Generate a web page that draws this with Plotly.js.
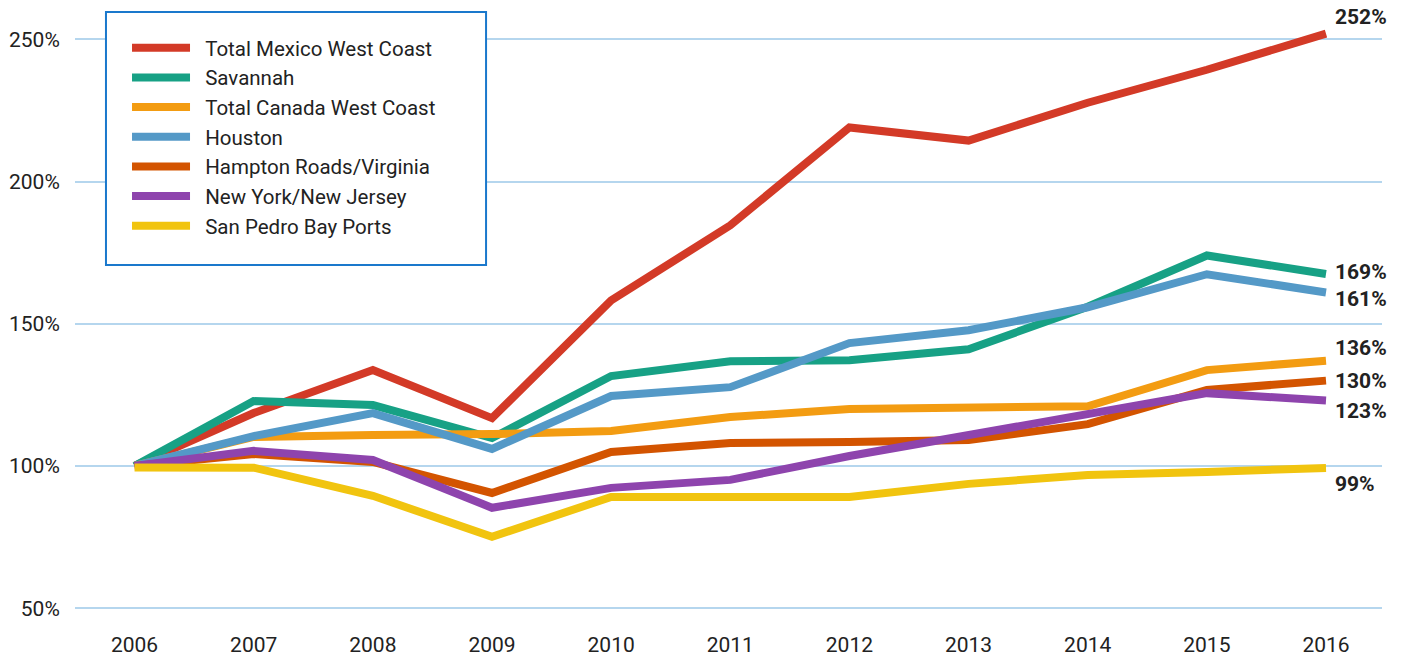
<!DOCTYPE html>
<html>
<head>
<meta charset="utf-8">
<script src="https://cdn.plot.ly/plotly-3.0.1.min.js"></script>
<style>html,body{margin:0;padding:0;background:#fff;}#chart{width:1405px;height:658px;}</style>
</head>
<body>
<div id="chart"></div>
<script>
const years = [2006, 2007, 2008, 2009, 2010, 2011, 2012, 2013, 2014, 2015, 2016];
const seriesNames = ["Total Mexico West Coast", "Savannah", "Total Canada West Coast", "Houston", "Hampton Roads/Virginia", "New York/New Jersey", "San Pedro Bay Ports"];
const mexicoWestCoast = [100, 118.6, 133.7, 116.8, 158.2, 184.6, 219.0, 214.4, 227.7, 239.3, 252];
const savannah        = [100, 122.8, 121.4, 109.8, 131.6, 136.8, 137.2, 141.0, 156.0, 174.0, 167.5];
const canadaWestCoast = [100, 110.2, 110.9, 111.2, 112.3, 117.2, 120.0, 120.4, 121.0, 133.7, 137];
const houston         = [100, 110.5, 118.6, 106.0, 124.6, 127.7, 143.2, 147.7, 155.8, 167.4, 161];
const hamptonRoads    = [100, 104.2, 101.4, 90.5, 104.9, 108.1, 108.4, 109.1, 114.7, 126.7, 130];
const newYorkNewJersey= [100, 105.3, 102.1, 85.3, 92.3, 95.1, 103.5, 110.9, 118.6, 125.6, 123];
const sanPedroBay     = [99.5, 99.4, 89.5, 75.1, 89.1, 89.1, 89.1, 93.7, 96.8, 97.9, 99.3];
const endLabels = ["252%", "169%", "136%", "161%", "130%", "123%", "99%"];
const yTickVals = [50, 100, 150, 200, 250];
const yTickText = ["50%", "100%", "150%", "200%", "250%"];

const seriesValues = [mexicoWestCoast, savannah, canadaWestCoast, houston, hamptonRoads, newYorkNewJersey, sanPedroBay];
const colors = ["#d33a27", "#17a185", "#f39c12", "#5499c7", "#d35400", "#8e44ad", "#f1c40f"];
const shiftBySeries = [17, 2, 13, -7, 0, -10, -16];

const traces = seriesNames.map((name, i) => ({
  type: "scatter",
  mode: "lines",
  name: "\u00a0\u00a0" + name,
  x: years,
  y: seriesValues[i],
  line: {color: colors[i], width: 8},
  hoverinfo: "x+y+name"
}));

const annotations = seriesNames.map((name, i) => ({
  x: years[years.length - 1],
  y: seriesValues[i][seriesValues[i].length - 1],
  xref: "x", yref: "y",
  text: "<b>" + endLabels[i] + "</b>",
  showarrow: false,
  xanchor: "left",
  yanchor: "middle",
  xshift: 7,
  yshift: shiftBySeries[i],
  font: {family: "Roboto, sans-serif", size: 21, color: "#222"}
}));

const layout = {
  width: 1405,
  height: 658,
  margin: {l: 75, r: 23, t: 10, b: 43},
  paper_bgcolor: "#ffffff",
  plot_bgcolor: "#ffffff",
  font: {family: "Roboto, sans-serif", color: "#222", size: 21},
  showlegend: true,
  legend: {
    x: 0.0398, y: 0.9703, xanchor: "left", yanchor: "top",
    bgcolor: "rgba(0,0,0,0)", borderwidth: 0,
    font: {family: "Roboto, sans-serif", size: 20.5, color: "#222"},
    itemwidth: 58,
    traceorder: "normal"
  },
  xaxis: {
    range: [2005.5, 2016.47],
    tickmode: "array",
    tickvals: years,
    ticktext: years.map(String),
    showgrid: false,
    zeroline: false,
    showline: false,
    ticks: "outside", ticklen: 11, tickcolor: "rgba(0,0,0,0)",
    tickfont: {family: "Roboto, sans-serif", size: 21, color: "#222"},
    fixedrange: true
  },
  yaxis: {
    range: [47.6, 260.3],
    tickmode: "array",
    tickvals: yTickVals,
    ticktext: yTickText,
    showgrid: true,
    gridcolor: "#b5d6ee",
    gridwidth: 2,
    zeroline: false,
    showline: false,
    ticks: "outside", ticklen: 10, tickcolor: "rgba(0,0,0,0)",
    tickfont: {family: "Roboto, sans-serif", size: 21, color: "#222"},
    fixedrange: true
  },
  shapes: [{
    type: "rect", xref: "paper", yref: "paper", layer: "above",
    x0: 0.0237, x1: 0.3145, y0: 0.5785, y1: 0.9967,
    line: {color: "#1a78cc", width: 2},
    fillcolor: "#ffffff"
  }],
  annotations: annotations
};

Plotly.newPlot("chart", traces, layout, {displayModeBar: false, staticPlot: true});
</script>
</body>
</html>
